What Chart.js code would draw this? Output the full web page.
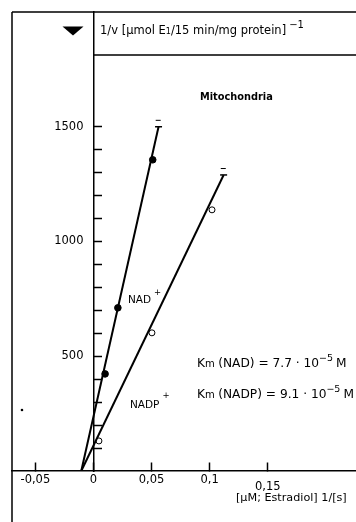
<!DOCTYPE html>
<html><head><meta charset="utf-8">
<script src="https://cdn.jsdelivr.net/npm/chart.js@4.4.1/dist/chart.umd.min.js"></script>
<style>html,body{margin:0;padding:0;background:#fff;}canvas{display:block;}</style>
</head><body>
<canvas id="c" width="356" height="522"></canvas>
<script>
// ---- data ----
const nadX = [0.01, 0.021, 0.051];
const nadY = [423, 711, 1356];
const nadpX = [0.0047, 0.0503, 0.102];
const nadpY = [131, 602, 1138];
const nadFitX = [-0.0105, 0.056];
const nadFitY = [0, 1500];
const nadpFitX = [-0.0105, 0.112];
const nadpFitY = [0, 1290];
const capX = [0.056, 0.112];
const capY = [1500, 1290];
const capDashX = [0.0557, 0.1117];
const capDashY = [1528, 1318];
const strayX = [-0.0615];
const strayY = [266];
const xTickValues = [-0.05, 0, 0.05, 0.1, 0.15];
const xTickLabels = ['-0,05', '0', '0,05', '0,1', '0,15'];
const yTickValues = [100, 200, 300, 400, 500, 600, 700, 800, 900, 1000, 1100, 1200, 1300, 1400, 1500];
const yTickLabels = ['', '', '', '', '500', '', '', '', '', '1000', '', '', '', '', '1500'];

const FONT = 'DejaVu Sans';
const pts = (xs, ys) => xs.map((x, i) => ({x: x, y: ys[i]}));

function rich(ctx, x, y, segs) {
  let cx = x;
  segs.forEach(s => {
    ctx.font = (s.bold ? 'bold ' : '') + s.size + 'px "' + FONT + '"';
    ctx.fillText(s.t, cx, y + (s.dy || 0));
    cx += ctx.measureText(s.t).width + (s.gap || 0);
  });
}

const shifted = new WeakSet();
const yLabelGap = {
  id: 'yLabelGap',
  beforeDraw(chart) {
    const items = chart.scales.y.getLabelItems(chart.chartArea);
    if (shifted.has(items)) return;
    shifted.add(items);
    items.forEach(it => { it.options.translation[0] -= 10; });
  }
};

const decor = {
  id: 'decor',
  afterDraw(chart) {
    const ctx = chart.ctx;
    const xs = chart.scales.x;
    const x0 = xs.getPixelForValue(0);
    ctx.save();
    ctx.strokeStyle = '#000';
    ctx.lineWidth = 1.5;
    ctx.beginPath();
    ctx.moveTo(12, 12); ctx.lineTo(356, 12);
    ctx.moveTo(12, 12); ctx.lineTo(12, 522);
    ctx.moveTo(x0, 55); ctx.lineTo(356, 55);
    ctx.stroke();
    ctx.fillStyle = '#000';
    ctx.beginPath();
    ctx.moveTo(62.5, 26.5); ctx.lineTo(83.5, 26.5); ctx.lineTo(73, 35.5);
    ctx.closePath(); ctx.fill();
    ctx.textBaseline = 'alphabetic';
    ctx.textAlign = 'left';
    rich(ctx, 100, 34, [
      {t: '1/v [µmol E', size: 11.5},
      {t: '1', size: 8, dy: 0},
      {t: '/15 min/mg protein]', size: 11.5, gap: 3},
      {t: '\u22121', size: 10, dy: -6}
    ]);
    rich(ctx, 200, 100, [{t: 'Mitochondria', size: 9.8, bold: true}]);
    rich(ctx, 128, 303, [{t: 'NAD', size: 10.5, gap: 3}, {t: '+', size: 8.5, dy: -8}]);
    rich(ctx, 130, 408, [{t: 'NADP', size: 10.5, gap: 3}, {t: '+', size: 8.5, dy: -10}]);
    rich(ctx, 197, 367, [
      {t: 'K', size: 12.2}, {t: 'm', size: 10, gap: 3.5}, {t: '(NAD) = 7.7 · 10', size: 12.2},
      {t: '\u22125', size: 9.5, dy: -6, gap: 3}, {t: 'M', size: 12.2}
    ]);
    rich(ctx, 197, 398, [
      {t: 'K', size: 12.2}, {t: 'm', size: 10, gap: 3.5}, {t: '(NADP) = 9.1 · 10', size: 12.2},
      {t: '\u22125', size: 9.5, dy: -6, gap: 3}, {t: 'M', size: 12.2}
    ]);
    rich(ctx, 236, 501, [{t: '[µM; Estradiol] 1/[s]', size: 11.2}]);
    ctx.restore();
  }
};

function noSpace(s, horiz) {
  if (horiz) s.height = 0; else s.width = 0;
  s.paddingTop = 0; s.paddingBottom = 0; s.paddingLeft = 0; s.paddingRight = 0;
}

new Chart(document.getElementById('c'), {
  type: 'scatter',
  data: {
    datasets: [
      {label: 'NAD+ fit', data: pts(nadFitX, nadFitY), showLine: true, borderColor: '#000', borderWidth: 2, pointRadius: 0},
      {label: 'NADP+ fit', data: pts(nadpFitX, nadpFitY), showLine: true, borderColor: '#000', borderWidth: 2, pointRadius: 0},
      {label: 'NAD+', data: pts(nadX, nadY), pointRadius: 3.3, backgroundColor: '#000', borderColor: '#000', borderWidth: 1},
      {label: 'NADP+', data: pts(nadpX, nadpY), pointRadius: 3, backgroundColor: '#fff', borderColor: '#000', borderWidth: 1},
      {label: 'caps', data: pts(capX, capY), pointStyle: 'line', pointRadius: 3.5, borderColor: '#000', borderWidth: 1.5},
      {label: 'cap dashes', data: pts(capDashX, capDashY), pointStyle: 'line', pointRadius: 2.5, borderColor: '#000', borderWidth: 1},
      {label: 'dot', data: pts(strayX, strayY), pointRadius: 1.3, backgroundColor: '#000', borderColor: '#000', borderWidth: 0}
    ]
  },
  options: {
    responsive: false,
    animation: false,
    devicePixelRatio: 1,
    layout: {autoPadding: false, padding: {left: 12, top: 12, right: 0, bottom: 51}},
    plugins: {legend: {display: false}, tooltip: {enabled: false}},
    scales: {
      x: {
        type: 'linear', position: {y: 0}, min: -0.0701, max: 0.2259,
        afterFit: s => noSpace(s, true),
        afterBuildTicks: s => { s.ticks = xTickValues.map(v => ({value: v})); },
        grid: {drawOnChartArea: false, drawTicks: true, tickLength: -9, tickColor: '#000', tickWidth: 1.5, color: '#000'},
        border: {color: '#000', width: 1.5},
        ticks: {
          padding: 11, color: '#000', maxRotation: 0, autoSkip: false,
          font: c => (c.tick && c.tick.value === 0.15) ? {family: FONT, size: 11.5, lineHeight: 0.8} : {family: FONT, size: 11.5},
          callback: (v) => {
            const lab = xTickLabels[xTickValues.indexOf(v)];
            return v === 0.15 ? ['', lab] : lab;
          }
        }
      },
      y: {
        type: 'linear', position: {x: 0}, min: 0, max: 2000,
        afterFit: s => noSpace(s, false),
        afterBuildTicks: s => { s.ticks = yTickValues.map(v => ({value: v})); },
        grid: {drawOnChartArea: false, drawTicks: true, tickLength: -9, tickColor: '#000', tickWidth: 1.5, color: '#000'},
        border: {color: '#000', width: 1.5},
        ticks: {
          padding: 10, color: '#000', autoSkip: false,
          font: {family: FONT, size: 11.5},
          callback: (v) => yTickLabels[yTickValues.indexOf(v)]
        }
      }
    }
  },
  plugins: [yLabelGap, decor]
});
</script>
</body></html>
